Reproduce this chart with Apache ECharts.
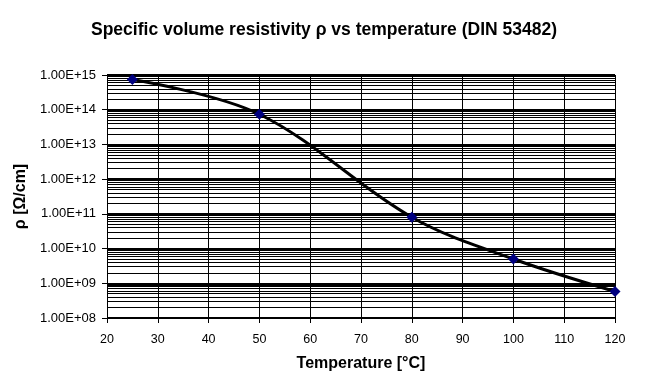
<!DOCTYPE html>
<html><head><meta charset="utf-8">
<script src="https://cdn.jsdelivr.net/npm/echarts@6/dist/echarts.min.js"></script>
<style>html,body{margin:0;padding:0;background:#fff}#c{width:657px;height:382px}</style>
</head><body><div id="c"></div>
<script>
const temperatures = [25, 50, 80, 100, 120];
const resistivity = [7.4e14, 7.4e13, 8.0e10, 5.0e9, 5.8e8];
const xTicks = [20, 30, 40, 50, 60, 70, 80, 90, 100, 110, 120];
const decades = [8, 9, 10, 11, 12, 13, 14];
const minorMultipliers = [2, 3, 4, 5, 6, 7, 8, 9];

const minorLines = [];
decades.forEach(d => minorMultipliers.forEach(m => minorLines.push({ yAxis: m * Math.pow(10, d) })));

const font = 'Liberation Sans, Arial, sans-serif';
const chart = echarts.init(document.getElementById('c'));
chart.setOption({
  animation: false,
  backgroundColor: '#fff',
  title: {
    text: 'Specific volume resistivity \u03c1 vs temperature (DIN 53482)',
    left: 86, top: 16,
    textStyle: { fontFamily: font, fontSize: 17.5, fontWeight: 'bold', color: '#000' }
  },
  grid: { left: 107, right: 42, top: 75, bottom: 64 },
  xAxis: {
    type: 'value', min: xTicks[0], max: xTicks[xTicks.length - 1], interval: 10,
    name: 'Temperature [\u00b0C]', nameLocation: 'middle', nameGap: 38,
    nameTextStyle: { fontFamily: font, fontSize: 16, fontWeight: 'bold', color: '#000' },
    axisLine: { show: true, lineStyle: { color: '#000', width: 1 } },
    axisTick: { show: true, length: 5, lineStyle: { color: '#000' } },
    axisLabel: { fontFamily: font, fontSize: 12.5, color: '#000', margin: 15 },
    splitLine: { show: true, lineStyle: { color: '#000', width: 1 } }
  },
  yAxis: {
    type: 'log', logBase: 10, min: 1e8, max: 1e15,
    name: '\u03c1 [\u03a9/cm]', nameLocation: 'middle', nameGap: 70,
    nameTextStyle: { fontFamily: font, fontSize: 16, fontWeight: 'bold', color: '#000' },
    axisLine: { show: true, lineStyle: { color: '#000', width: 1 } },
    axisTick: { show: true, length: 5, lineStyle: { color: '#000' } },
    axisLabel: {
      fontFamily: font, fontSize: 13, color: '#000', margin: 11,
      formatter: v => {
        const e = Math.round(Math.log10(v));
        return '1.00E+' + (e < 10 ? '0' + e : e);
      }
    },
    splitLine: { show: true, lineStyle: { color: '#000', width: 2 } }
  },
  series: [{
    type: 'line',
    data: temperatures.map((t, i) => [t, resistivity[i]]),
    smooth: 0.35,
    symbol: 'diamond', symbolSize: 11,
    itemStyle: { color: '#000080' },
    lineStyle: { color: '#000', width: 3 },
    z: 5,
    markLine: {
      silent: true, symbol: 'none', animation: false,
      label: { show: false },
      lineStyle: { color: '#000', width: 1, type: 'solid' },
      data: minorLines,
      z: 1
    }
  }]
});
</script></body></html>
